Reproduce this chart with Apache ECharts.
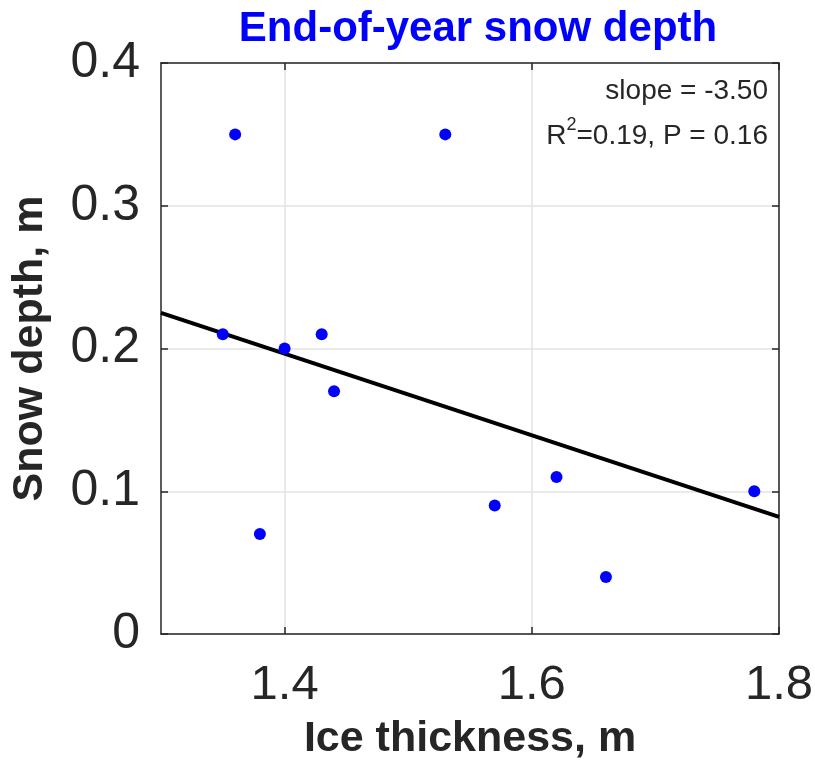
<!DOCTYPE html>
<html>
<head>
<meta charset="utf-8">
<script src="https://cdn.jsdelivr.net/npm/echarts@6/dist/echarts.min.js"></script>
<style>
html,body{margin:0;padding:0;background:#fff;}
#chart{width:815px;height:762px;}
</style>
</head>
<body>
<div id="chart"></div>
<script>
// Data
const iceThickness = [1.36, 1.53, 1.35, 1.40, 1.43, 1.44, 1.38, 1.57, 1.62, 1.66, 1.78];
const snowDepth    = [0.35, 0.35, 0.21, 0.20, 0.21, 0.17, 0.07, 0.09, 0.11, 0.04, 0.10];
const fitX = [1.3, 1.8];
const fitY = [0.225, 0.082];
const xTicks = [1.4, 1.6, 1.8];
const yTicks = [0, 0.1, 0.2, 0.3, 0.4];
const titleText = 'End-of-year snow depth';
const xName = 'Ice thickness, m';
const yName = 'Snow depth, m';
const statLine1 = 'slope = -3.50';
const statR2 = '0.19';
const statP = '0.16';

const FONT = '"Liberation Sans", Arial, Helvetica, sans-serif';
const AX = '#262626';
const GRID = '#e3e3e3';

const chart = echarts.init(document.getElementById('chart'), null, {renderer: 'canvas'});

const scatterData = iceThickness.map((x, i) => [x, snowDepth[i]]);
const fitData = fitX.map((x, i) => [x, fitY[i]]);

const gridL = 161, gridR = 815 - 779, gridT = 63, gridB = 762 - 634;

chart.setOption({
  backgroundColor: '#fff',
  animation: false,
  title: {
    text: titleText,
    left: 473, top: 3,
    textAlign: 'center',
    textStyle: {color: '#0000ff', fontFamily: FONT, fontWeight: 'bold', fontSize: 42}
  },
  grid: {left: gridL, right: gridR, top: gridT, bottom: gridB, containLabel: false, outerBoundsMode: 'none'},
  xAxis: [{
    type: 'value', min: 1.3, max: 1.8, position: 'bottom',
    name: xName, nameLocation: 'middle', nameGap: 84,
    nameTextStyle: {color: AX, fontFamily: FONT, fontWeight: 'bold', fontSize: 43},
    axisLine: {show: true, onZero: false, lineStyle: {color: AX, width: 1.5}},
    axisTick: {show: true, inside: true, length: 7, customValues: xTicks, lineStyle: {color: AX, width: 1.5}},
    axisLabel: {show: true, customValues: xTicks, margin: 27, color: AX, fontFamily: FONT, fontSize: 49,
      formatter: v => v.toFixed(1)},
    splitLine: {show: true, lineStyle: {color: GRID, width: 1.5}}
  }, {
    type: 'value', min: 1.3, max: 1.8, position: 'top',
    axisLine: {show: true, onZero: false, lineStyle: {color: AX, width: 1.5}},
    axisTick: {show: true, inside: true, length: 7, customValues: xTicks, lineStyle: {color: AX, width: 1.5}},
    axisLabel: {show: false},
    splitLine: {show: false}
  }],
  yAxis: [{
    type: 'value', min: 0, max: 0.4, interval: 0.1, position: 'left',
    name: yName, nameLocation: 'middle', nameGap: 109, nameRotate: 90,
    nameTextStyle: {color: AX, fontFamily: FONT, fontWeight: 'bold', fontSize: 43},
    axisLine: {show: true, onZero: false, lineStyle: {color: AX, width: 1.5}},
    axisTick: {show: true, inside: true, length: 7, lineStyle: {color: AX, width: 1.5}},
    axisLabel: {show: true, margin: 21, color: AX, fontFamily: FONT, fontSize: 50,
      formatter: v => (v === 0 ? '0' : v.toFixed(1))},
    splitLine: {show: true, lineStyle: {color: GRID, width: 1.5}}
  }, {
    type: 'value', min: 0, max: 0.4, interval: 0.1, position: 'right',
    axisLine: {show: true, onZero: false, lineStyle: {color: AX, width: 1.5}},
    axisTick: {show: true, inside: true, length: 7, lineStyle: {color: AX, width: 1.5}},
    axisLabel: {show: false},
    splitLine: {show: false}
  }],
  series: [{
    type: 'line',
    data: fitData,
    xAxisIndex: 0, yAxisIndex: 0,
    showSymbol: false, symbol: 'none',
    lineStyle: {color: '#000', width: 4},
    z: 3
  }, {
    type: 'scatter',
    data: scatterData,
    xAxisIndex: 0, yAxisIndex: 0,
    symbol: 'circle', symbolSize: 12,
    itemStyle: {color: '#0000ff', opacity: 1},
    z: 4
  }],
  graphic: [{
    type: 'text',
    right: 815 - 768, top: 77,
    style: {text: statLine1, fill: AX, font: '28px ' + FONT, textAlign: 'right'}
  }, {
    type: 'text',
    right: 815 - 768, top: 116,
    style: {
      text: '{n|R}{s|2}{n|=' + statR2 + ', P = ' + statP + '}',
      fill: AX,
      textAlign: 'right',
      rich: {
        n: {fontFamily: FONT, fontSize: 28, fill: AX, verticalAlign: 'bottom', lineHeight: 34},
        s: {fontFamily: FONT, fontSize: 18, fill: AX, verticalAlign: 'top', lineHeight: 34}
      }
    }
  }]
});
</script>
</body>
</html>
